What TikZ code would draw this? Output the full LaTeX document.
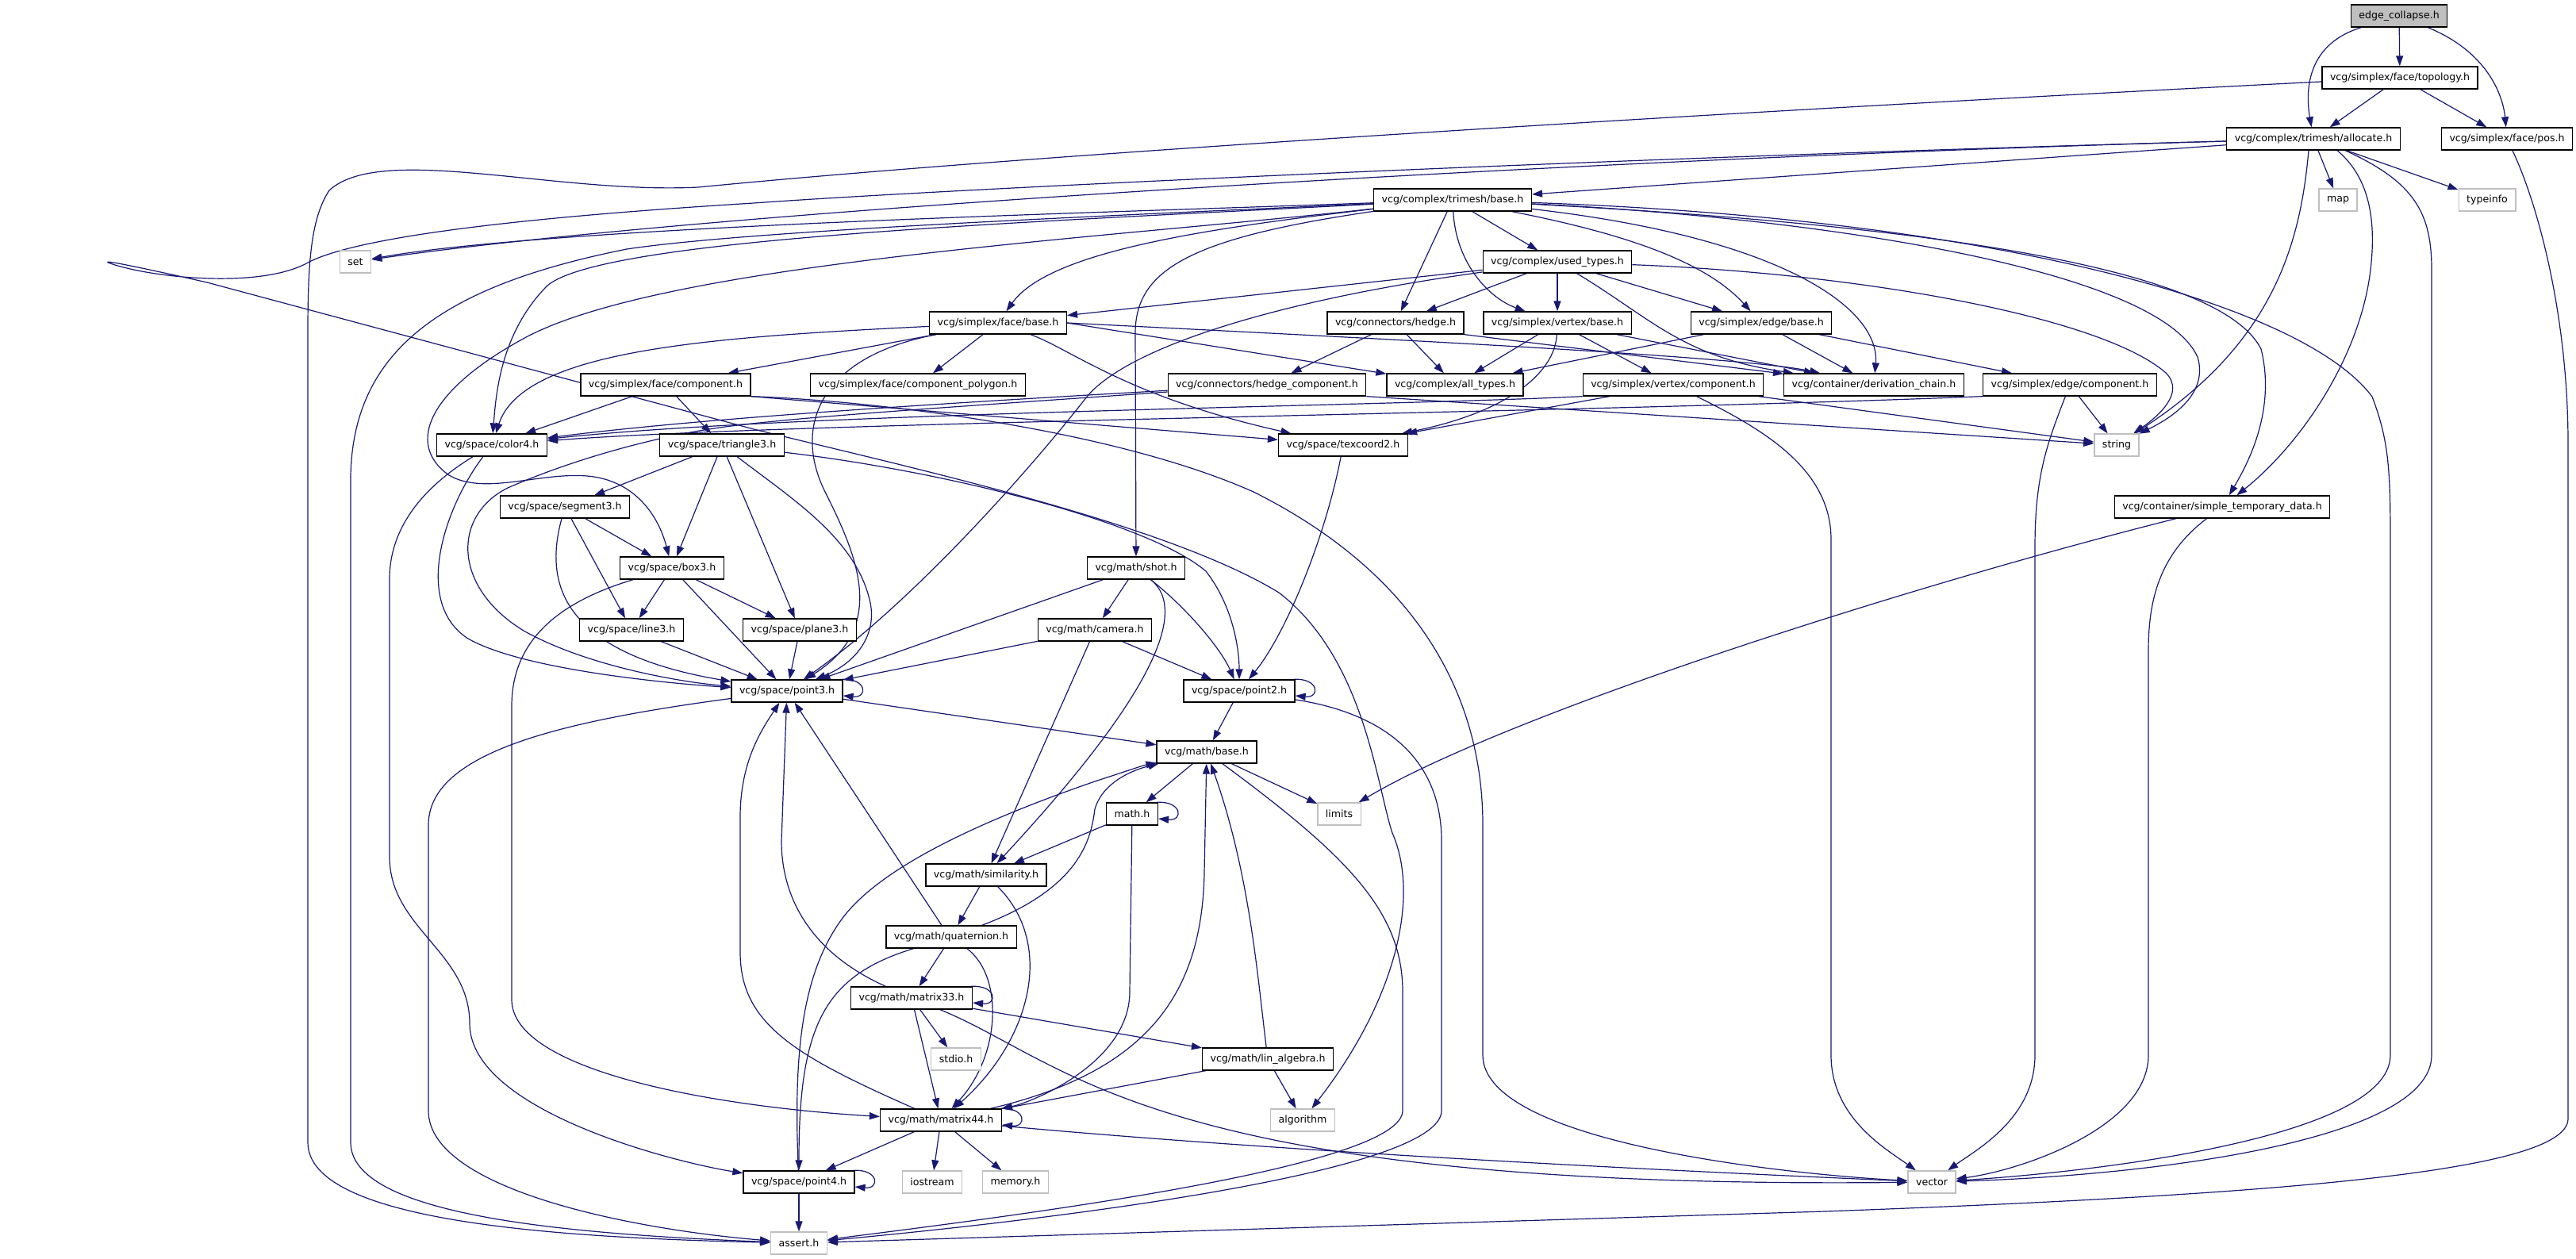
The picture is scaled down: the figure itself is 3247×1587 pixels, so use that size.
\documentclass[tikz,border=0pt]{standalone}
\usepackage{fontspec}
\setmainfont{DejaVu Sans}
\usetikzlibrary{arrows.meta,backgrounds}
\definecolor{edgeblue}{HTML}{191970}
\definecolor{sysgray} {HTML}{BFBFBF}
\definecolor{rootfill}{HTML}{BFBFBF}
\tikzset{
  hdr/.style ={draw=black, fill=white, line width=1.3pt,
               minimum height=28pt, inner xsep=10pt, inner ysep=0pt,
               font=\fontsize{12.6pt}{15pt}\selectfont},
  sys/.style ={hdr, draw=sysgray},
  root/.style={hdr, fill=rootfill},
  dep/.style ={-{Triangle[length=13pt,width=9pt]}, line width=1.2pt,
               color=edgeblue},
}
\begin{document}
\begin{tikzpicture}[x=1pt,y=-1pt]
  \useasboundingbox (0,0) rectangle (3247,1587);

  \node[root] (ec)       at (3024,20)   {edge\_collapse.h};
  \node[hdr]  (topo)     at (3025,98)   {vcg/simplex/face/topology.h};
  \node[hdr]  (alloc)    at (2916,175)  {vcg/complex/trimesh/allocate.h};
  \node[hdr]  (pos)      at (3160,175)  {vcg/simplex/face/pos.h};
  \node[sys]  (map)      at (2947,252)  {map};
  \node[sys]  (typeinfo) at (3135,252)  {typeinfo};
  \node[hdr]  (tbase)    at (1831,252)  {vcg/complex/trimesh/base.h};
  \node[sys]  (set)      at (448,330)   {set};
  \node[hdr]  (used)     at (1963,330)  {vcg/complex/used\_types.h};
  \node[hdr]  (fbase)    at (1258,407)  {vcg/simplex/face/base.h};
  \node[hdr]  (hedge)    at (1759,407)  {vcg/connectors/hedge.h};
  \node[hdr]  (vbase)    at (1963,407)  {vcg/simplex/vertex/base.h};
  \node[hdr]  (ebase)    at (2220,407)  {vcg/simplex/edge/base.h};
  \node[hdr]  (fcomp)    at (839,485)   {vcg/simplex/face/component.h};
  \node[hdr]  (fpoly)    at (1157,485)  {vcg/simplex/face/component\_polygon.h};
  \node[hdr]  (hcomp)    at (1597,485)  {vcg/connectors/hedge\_component.h};
  \node[hdr]  (alltypes) at (1834,485)  {vcg/complex/all\_types.h};
  \node[hdr]  (vcomp)    at (2109,485)  {vcg/simplex/vertex/component.h};
  \node[hdr]  (deriv)    at (2362,485)  {vcg/container/derivation\_chain.h};
  \node[hdr]  (ecomp)    at (2609,485)  {vcg/simplex/edge/component.h};
  \node[hdr]  (color4)   at (620,561)   {vcg/space/color4.h};
  \node[hdr]  (tri3)     at (910,561)   {vcg/space/triangle3.h};
  \node[hdr]  (tex2)     at (1693,561)  {vcg/space/texcoord2.h};
  \node[sys]  (string)   at (2668,561)  {string};
  \node[hdr]  (seg3)     at (712,639)   {vcg/space/segment3.h};
  \node[hdr]  (tmpdata)  at (2801,639)  {vcg/container/simple\_temporary\_data.h};
  \node[hdr]  (box3)     at (847,716)   {vcg/space/box3.h};
  \node[hdr]  (shot)     at (1432,716)  {vcg/math/shot.h};
  \node[hdr]  (line3)    at (796,794)   {vcg/space/line3.h};
  \node[hdr]  (plane3)   at (1008,794)  {vcg/space/plane3.h};
  \node[hdr]  (camera)   at (1380,794)  {vcg/math/camera.h};
  \node[hdr]  (point3)   at (992,871)   {vcg/space/point3.h};
  \node[hdr]  (point2)   at (1562,871)  {vcg/space/point2.h};
  \node[hdr]  (mbase)    at (1521,948)  {vcg/math/base.h};
  \node[hdr]  (mathh)    at (1427,1026) {math.h};
  \node[sys]  (limits)   at (1688,1026) {limits};
  \node[hdr]  (simil)    at (1243,1103) {vcg/math/similarity.h};
  \node[hdr]  (quat)     at (1199,1181) {vcg/math/quaternion.h};
  \node[hdr]  (m33)      at (1149,1258) {vcg/math/matrix33.h};
  \node[sys]  (stdio)    at (1205,1335) {stdio.h};
  \node[hdr]  (linalg)   at (1598,1335) {vcg/math/lin\_algebra.h};
  \node[hdr]  (m44)      at (1186,1412) {vcg/math/matrix44.h};
  \node[sys]  (algorithm) at (1642,1412) {algorithm};
  \node[sys]  (iostream) at (1175,1490) {iostream};
  \node[sys]  (memory)   at (1280,1490) {memory.h};
  \node[hdr]  (point4)   at (1007,1490) {vcg/space/point4.h};
  \node[sys]  (vector)   at (2435,1490) {vector};
  \node[sys]  (assert)   at (1007,1567) {assert.h};

  \begin{scope}[on background layer]
  \fill[white] (0,0) rectangle (3247,1587);

  \draw[dep] (ec) -- (topo);
  \draw[dep] (ec) .. controls (2910,55) and (2905,110) .. (alloc);
  \draw[dep] (ec) .. controls (3135,65) and (3155,120) .. (pos);
  \draw[dep] (topo) -- (alloc);
  \draw[dep] (topo) -- (pos);
  \draw[dep] (topo) .. controls (2100,145) and (1300,195) .. (880,236)
    .. controls (700,245) and (480,180) .. (415,240)
    .. controls (392,275) and (388,330) .. (388,420) -- (388,1440)
    .. controls (388,1540) and (700,1560) .. (assert);
  \draw[dep] (pos) .. controls (3200,260) and (3237,400) .. (3237,560) -- (3237,1410)
    .. controls (3237,1475) and (2900,1505) .. (2300,1527) -- (assert);

  \draw[dep] (alloc) -- (tbase);
  \draw[dep] (alloc) -- (map);
  \draw[dep] (alloc) -- (typeinfo);
  \draw[dep] (alloc) .. controls (2000,200) and (900,265) .. (set);
  \draw[dep] (alloc) .. controls (2000,200) and (1200,238) .. (950,256)
    .. controls (640,275) and (450,300) .. (390,330)
    .. controls (330,365) and (190,350) .. (139,332)
    .. controls (120,325) and (190,340) .. (261,356) -- (950,541)
    .. controls (1150,590) and (1470,660) .. (1612,747)
    .. controls (1720,830) and (1735,990) .. (1755,1050)
    .. controls (1790,1130) and (1760,1260) .. (algorithm);
  \draw[dep] ([xshift=-6pt]alloc.south) .. controls (2900,300) and (2870,430) .. (string);
  \draw[dep] ([xshift=30pt]alloc.south) .. controls (2988,225) and (2995,280) .. (2988,340)
    .. controls (2975,450) and (2900,560) .. (tmpdata);
  \draw[dep] ([xshift=40pt]alloc.south) .. controls (3045,230) and (3065,270) .. (3065,340) -- (3065,1330)
    .. controls (3065,1440) and (2700,1482) .. (vector);

  \draw[dep] (tbase) .. controls (1400,268) and (700,285) .. (set);
  \draw[dep] (tbase) .. controls (1400,272) and (950,290) .. (790,314)
    .. controls (560,360) and (445,440) .. (442,600) -- (442,1440)
    .. controls (442,1530) and (700,1555) .. (assert);
  \draw[dep] (tbase) .. controls (1300,280) and (760,300) .. (690,360)
    .. controls (630,420) and (625,500) .. (color4);
  \draw[dep] (tbase) .. controls (1400,300) and (850,330) .. (667,423)
    .. controls (540,490) and (510,560) .. (566,599)
    .. controls (610,625) and (680,595) .. (740,600)
    .. controls (800,605) and (830,650) .. (box3);
  \draw[dep] (tbase) .. controls (1500,300) and (1431,340) .. (1431,420) -- (shot);
  \draw[dep] (tbase) .. controls (1500,290) and (1320,320) .. (fbase);
  \draw[dep] (tbase) -- (hedge);
  \draw[dep] (tbase) -- (used);
  \draw[dep] (tbase) .. controls (1835,330) and (1875,375) .. (vbase);
  \draw[dep] (tbase) .. controls (2050,295) and (2150,330) .. (ebase);
  \draw[dep] (tbase) .. controls (2250,300) and (2370,390) .. (deriv);
  \draw[dep] (tbase) .. controls (2300,275) and (2720,340) .. (2770,450)
    .. controls (2785,500) and (2730,530) .. (string);
  \draw[dep] (tbase) .. controls (2450,285) and (2800,340) .. (2850,440)
    .. controls (2870,520) and (2830,590) .. (tmpdata);
  \draw[dep] (tbase) .. controls (2500,275) and (2900,380) .. (2990,500)
    .. controls (3013,560) and (3013,600) .. (3013,700) -- (3013,1330)
    .. controls (3013,1440) and (2600,1480) .. (vector);

  \draw[dep] (used) -- (fbase);
  \draw[dep] (used) -- (hedge);
  \draw[dep] (used) -- (vbase);
  \draw[dep] (used) -- (ebase);
  \draw[dep] (used) .. controls (2080,400) and (2120,450) .. (deriv);
  \draw[dep] (used) .. controls (2350,345) and (2650,400) .. (2730,470)
    .. controls (2755,495) and (2720,525) .. (string);
  \draw[dep] (used) .. controls (1600,380) and (1420,440) .. (1370,500)
    .. controls (1300,590) and (1150,760) .. (point3);

  \draw[dep] (fbase) -- (fcomp);
  \draw[dep] (fbase) -- (fpoly);
  \draw[dep] (fbase) .. controls (1350,440) and (1420,500) .. (tex2);
  \draw[dep] (fbase.east) -- (alltypes);
  \draw[dep] (fbase.east) .. controls (1800,430) and (2200,450) .. (deriv);
  \draw[dep] (fbase) .. controls (900,425) and (660,440) .. (color4);
  \draw[dep] (fbase) .. controls (1030,450) and (1000,540) .. (1040,620)
    .. controls (1080,700) and (1120,790) .. (point3);

  \draw[dep] (hedge) -- (hcomp);
  \draw[dep] (hedge) -- (alltypes);
  \draw[dep] (hedge.south east) -- (deriv);
  \draw[dep] (vbase) -- (alltypes);
  \draw[dep] (vbase) -- (vcomp);
  \draw[dep] (vbase) -- (deriv);
  \draw[dep] (vbase) .. controls (1960,470) and (1900,520) .. (tex2);
  \draw[dep] (ebase) -- (alltypes);
  \draw[dep] (ebase) -- (deriv);
  \draw[dep] (ebase) -- (ecomp);

  \draw[dep] (fcomp) -- (color4);
  \draw[dep] (fcomp) -- (tri3);
  \draw[dep] (fcomp.south east) -- (tex2);
  \draw[dep] (fcomp.south east) .. controls (1100,505) and (1400,540) .. (1580,620)
    .. controls (1780,720) and (1869,870) .. (1869,1040) -- (1869,1330)
    .. controls (1869,1440) and (2250,1480) .. (vector);
  \draw[dep] (hcomp) .. controls (1250,505) and (900,525) .. (color4);
  \draw[dep] (hcomp.south east) -- (string);
  \draw[dep] (hcomp) .. controls (1250,510) and (1000,525) .. (900,540)
    .. controls (820,552) and (720,580) .. (640,615)
    .. controls (570,650) and (570,740) .. (660,795)
    .. controls (740,840) and (860,860) .. (point3);
  \draw[dep] (vcomp.south west) .. controls (1750,512) and (1000,520) .. (color4);
  \draw[dep] (vcomp) -- (tex2);
  \draw[dep] (vcomp) -- (string);
  \draw[dep] (vcomp) .. controls (2220,540) and (2308,590) .. (2308,680) -- (2308,1330)
    .. controls (2308,1410) and (2380,1450) .. (vector);
  \draw[dep] (ecomp.south west) .. controls (2000,520) and (1000,532) .. (color4);
  \draw[dep] (ecomp) -- (string);
  \draw[dep] (ecomp) .. controls (2580,560) and (2565,600) .. (2565,690) -- (2565,1330)
    .. controls (2565,1410) and (2490,1450) .. (vector);

  \draw[dep] (color4) .. controls (560,640) and (520,760) .. (590,805)
    .. controls (660,845) and (850,862) .. (point3);
  \draw[dep] (color4) .. controls (540,610) and (491,660) .. (491,730) -- (491,1080)
    .. controls (491,1170) and (592,1200) .. (592,1290)
    .. controls (592,1400) and (850,1465) .. (point4);
  \draw[dep] (tri3) -- (seg3);
  \draw[dep] (tri3) -- (box3);
  \draw[dep] (tri3) -- (plane3);
  \draw[dep] (tri3) .. controls (1000,630) and (1080,680) .. (1097,760)
    .. controls (1105,800) and (1080,835) .. (point3);
  \draw[dep] (tri3) .. controls (1200,595) and (1450,660) .. (1520,720)
    .. controls (1555,765) and (1562,820) .. (point2);
  \draw[dep] (tex2) .. controls (1670,680) and (1620,800) .. (point2);
  \draw[dep] (tmpdata) .. controls (2720,700) and (2708,760) .. (2708,820) -- (2708,1330)
    .. controls (2708,1420) and (2550,1475) .. (vector);
  \draw[dep] (tmpdata) .. controls (2400,740) and (1900,900) .. (limits);

  \draw[dep] (seg3) -- (box3);
  \draw[dep] (seg3) -- (line3);
  \draw[dep] (seg3) .. controls (690,720) and (690,820) .. (point3);
  \draw[dep] (box3) -- (line3);
  \draw[dep] (box3) -- (plane3);
  \draw[dep] (box3) -- (point3);
  \draw[dep] (box3) .. controls (700,760) and (645,810) .. (645,890) -- (645,1260)
    .. controls (645,1350) and (900,1395) .. (m44);
  \draw[dep] (line3) -- (point3);
  \draw[dep] (plane3) -- (point3);

  \draw[dep] (shot) -- (camera);
  \draw[dep] (shot) .. controls (1500,770) and (1540,820) .. (point2);
  \draw[dep] (shot) -- (point3);
  \draw[dep] (shot) .. controls (1500,770) and (1450,880) .. (simil);
  \draw[dep] (camera) -- (point2);
  \draw[dep] (camera) -- (simil);
  \draw[dep] (camera) -- (point3);

  \draw[dep] (point3) -- (mbase);
  \draw[dep] (point3) .. controls (700,910) and (540,950) .. (540,1040) -- (540,1400)
    .. controls (540,1500) and (800,1550) .. (assert);
  \draw[dep] ([xshift=-2pt]point3.north east) .. controls +(32,-2) and +(32,3) .. ([yshift=-6pt]point3.east);
  \draw[dep] (point2) -- (mbase);
  \draw[dep] (point2) .. controls (1750,900) and (1817,960) .. (1817,1060) -- (1817,1400)
    .. controls (1817,1480) and (1300,1540) .. (assert);
  \draw[dep] ([xshift=-2pt]point2.north east) .. controls +(32,-2) and +(32,3) .. ([yshift=-6pt]point2.east);

  \draw[dep] (mbase) -- (mathh);
  \draw[dep] (mbase) -- (limits);
  \draw[dep] (mbase) .. controls (1700,1080) and (1768,1150) .. (1768,1250) -- (1768,1400)
    .. controls (1768,1470) and (1300,1530) .. (assert);
  \draw[dep] (mathh) -- (simil);
  \draw[dep] (mathh) -- (1424,1250) .. controls (1424,1340) and (1300,1390) .. (m44);
  \draw[dep] ([xshift=-2pt]mathh.north east) .. controls +(32,-2) and +(32,3) .. ([yshift=-6pt]mathh.east);

  \draw[dep] (simil) -- (quat);
  \draw[dep] (simil) .. controls (1330,1190) and (1300,1310) .. (m44);
  \draw[dep] (quat) -- (m33);
  \draw[dep] (quat) .. controls (1265,1230) and (1262,1330) .. (m44);
  \draw[dep] ([xshift=-12pt]quat.north) -- (point3);
  \draw[dep] (quat) .. controls (1040,1230) and (1007,1290) .. (point4);
  \draw[dep] (quat) .. controls (1360,1120) and (1375,1060) .. (1380,1020)
    .. controls (1390,985) and (1430,970) .. (mbase);

  \draw[dep] (m33) -- (stdio);
  \draw[dep] (m33) -- (m44);
  \draw[dep] (m33) -- (linalg);
  \draw[dep] (m33) .. controls (1020,1200) and (985,1130) .. (985,1060) -- (point3);
  \draw[dep] (m33) .. controls (1350,1340) and (1450,1500) .. (vector);
  \draw[dep] ([xshift=-2pt]m33.north east) .. controls +(32,-2) and +(32,3) .. ([yshift=-6pt]m33.east);
  \draw[dep] (linalg) -- (algorithm);
  \draw[dep] (linalg) -- (m44);
  \draw[dep] (linalg) .. controls (1585,1230) and (1575,1100) .. (mbase);

  \draw[dep] (m44) -- (iostream);
  \draw[dep] (m44) -- (memory);
  \draw[dep] (m44) -- (point4);
  \draw[dep] (m44) .. controls (1000,1330) and (933,1290) .. (933,1200) -- (933,1030)
    .. controls (933,960) and (960,920) .. (point3);
  \draw[dep] (m44) .. controls (1450,1350) and (1515,1250) .. (1518,1100) -- (mbase);
  \draw[dep] (m44) .. controls (1650,1455) and (2200,1480) .. (vector);
  \draw[dep] ([xshift=-2pt]m44.north east) .. controls +(32,-2) and +(32,3) .. ([yshift=-6pt]m44.east);

  \draw[dep] (point4) -- (assert);
  \draw[dep] (point4) .. controls (1000,1330) and (1010,1230) .. (1060,1160)
    .. controls (1110,1090) and (1250,1030) .. (1380,985)
    .. controls (1420,972) and (1440,965) .. (mbase);
  \draw[dep] ([xshift=-2pt]point4.north east) .. controls +(32,-2) and +(32,3) .. ([yshift=-6pt]point4.east);
  \end{scope}
\end{tikzpicture}
\end{document}
